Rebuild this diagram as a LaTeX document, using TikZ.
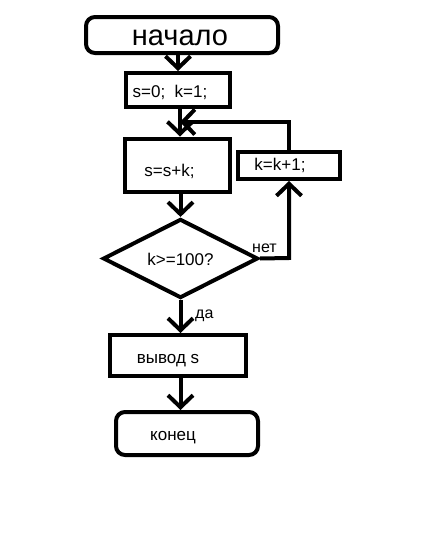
\documentclass[tikz,border=0pt]{standalone}
\usepackage{fontspec}
\setmainfont{Liberation Sans}
\usetikzlibrary{arrows.meta,shapes.geometric}
\begin{document}
\begin{tikzpicture}[x=1pt,y=-1pt,
  box/.style={draw=black,line width=4pt,fill=white,inner sep=0pt,text depth=0pt,font=\fontsize{17}{19}\selectfont},
  term/.style={box,rounded corners=9pt},
  cond/.style={draw=black,line width=4pt,diamond,inner sep=0pt,text depth=0pt,font=\fontsize{17}{19}\selectfont},
  conn/.style={line width=4pt,-{Straight Barb[length=12pt,width=25pt,line width=4pt]}},
  plain/.style={line width=4pt},
  lbl/.style={font=\fontsize{16}{18}\selectfont,inner sep=0pt,anchor=base west}]
\useasboundingbox[fill=white] (0,0) rectangle (425,541);
\node[term,minimum width=192pt,minimum height=36pt,text height=21pt,font=\fontsize{29}{32}\selectfont] (start) at (182,35) {\hspace*{-4pt}начало};
\node[box,minimum width=104pt,minimum height=34pt,text height=14pt] (init) at (178,90) {\hspace*{-16pt}s=0;\ \ k=1;};
\node[box,minimum width=105pt,minimum height=53pt,text height=23pt] (sum) at (177.5,165) {\hspace*{-16pt}s=s+k;};
\node[box,minimum width=102pt,minimum height=27pt,text height=9pt] (inc) at (289,165.5) {\hspace*{-18pt}k=k+1;};
\node[cond,minimum width=155pt,minimum height=77pt,text height=13pt] (test) at (180.5,258.5) {k>=100?};
\node[box,minimum width=136pt,minimum height=41pt,text height=15pt] (out) at (178,355.5) {\hspace*{-20pt}вывод s};
\node[term,minimum width=142pt,minimum height=43pt,text height=13pt] (end) at (187,433.5) {\hspace*{-28pt}конец};
\coordinate (j) at (180,122);
\coordinate (r) at (289,258);
\coordinate (rt) at (289,122);
\draw[conn] (start.south -| init) -- (init.north);
\draw[plain] (init.south -| j) -- (j);
\draw[conn] (j) -- (j |- sum.north);
\draw[conn] (inc.north) -- (rt) -- (j);
\draw[conn] (sum.south -| test) -- (test.north);
\draw[conn] (test.east) -- (r) -- (inc.south);
\draw[conn] (test.south) -- (out.north -| test);
\draw[conn] (out.south -| test) -- (end.north -| test);
\node[lbl] (no) at (252,252) {нет};
\node[lbl] (yes) at (195,318) {да};
\end{tikzpicture}
\end{document}
